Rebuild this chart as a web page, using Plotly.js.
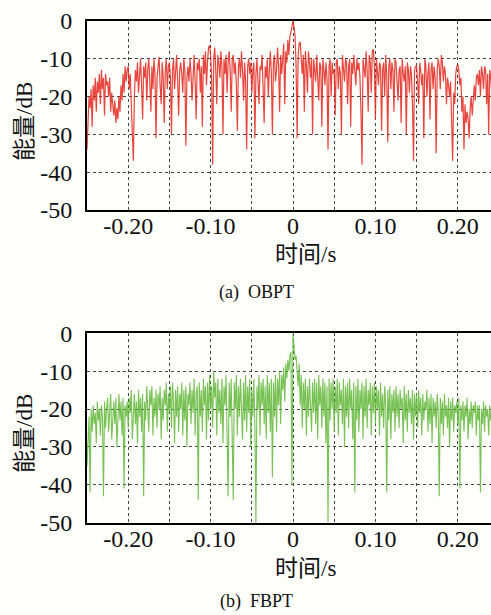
<!DOCTYPE html>
<html>
<head>
<meta charset="utf-8">
<script src="https://cdn.plot.ly/plotly-3.0.1.min.js"></script>
<style>
html,body{margin:0;padding:0;overflow:hidden;background:#fefefa;}
#chart{width:505px;height:615px;}
</style>
</head>
<body>
<div id="chart"></div>
<script>
// Time span of each record (s)
const tStart = -0.25;
const tEnd = 0.25;

// (a) OBPT energy (dB), evenly spaced over the time span
const obptDb = [
  -34, -26, -20, -23, -18, -28, -17, -21, -15, -24, -16, -19, -14, -22, -13, -18, -15, -25, -14, -17,
  -16, -20, -15, -24, -19, -22, -25, -21, -27, -23, -26, -20, -24, -17, -21, -14, -19, -12, -16, -13,
  -12, -18, -14, -22, -28, -37, -20, -13, -16, -11, -19, -14, -10, -17, -26, -12, -15, -11, -21, -13,
  -10, -16, -24, -12, -18, -10, -14, -31, -15, -12, -9.5, -17, -22, -11, -15, -27, -13, -10, -18, -12,
  -11, -15, -30, -13, -10, -18, -12, -9, -16, -25, -13, -11, -14, -19, -10, -13, -33, -15, -12, -16,
  -10, -14, -21, -12, -9, -16, -26, -11, -13, -10, -19, -12, -28, -9, -14, -8, -17, -11, -7, -6.5,
  -9, -15, -38, -10, -7, -13, -22, -9, -11, -15, -8, -12, -30, -10, -14, -9, -19, -11, -8, -13,
  -24, -10, -9, -14, -11, -17, -29, -12, -10, -15, -8, -13, -21, -11, -16, -34, -12, -10, -14, -11,
  -19, -13, -11, -31, -14, -10, -16, -22, -12, -13, -9, -17, -27, -12, -15, -10, -20, -13, -8, -14,
  -30, -11, -9, -16, -13, -7, -12, -24, -9, -14, -10, -6, -22, -8, -11, -5, -9, -4, -3, -1.5,
  0, -1.5, -4, -12, -31, -9, -6, -5.5, -10, -14, -9, -24, -8, -12, -19, -8, -11, -15, -10, -30,
  -10, -13, -16, -9, -14, -21, -11, -12, -28, -10, -13, -17, -11, -15, -34, -12, -10, -20, -11, -14,
  -13, -25, -11, -10, -18, -12, -14, -30, -9, -13, -16, -10, -11, -22, -12, -10, -28, -11, -14, -9,
  -12, -17, -10, -13, -11, -15, -24, -38, -10, -12, -15, -8, -13, -24, -9, -11, -19, -8, -7.5, -12,
  -26, -10, -13, -17, -11, -12, -29, -13, -11, -20, -9, -14, -32, -12, -10, -18, -11, -13, -24, -10,
  -11, -15, -21, -13, -12, -27, -10, -14, -16, -12, -30, -11, -13, -19, -12, -14, -22, -37, -13, -12,
  -12, -16, -22, -11, -13, -17, -14, -31, -10, -12, -20, -14, -11, -26, -13, -11, -18, -12, -15, -35,
  -13, -10, -12, -18, -9, -11, -16, -12, -14, -22, -15, -17, -20, -16, -25, -37, -19, -22, -14, -12,
  -11.5, -13, -17, -15, -24, -20, -34, -22, -27, -24, -26, -31, -23, -20, -25, -19, -17, -21, -15, -14,
  -17, -13, -20, -12, -14, -18, -12, -13, -22, -14, -30, -13, -15, -19, -14, -16, -21, -15, -17, -16,
  -16
];

// (b) FBPT energy (dB), evenly spaced over the time span
const fbptDb = [
  -35, -28, -22, -42, -20, -26, -19, -24, -21, -29, -18, -23, -20, -27, -19, -22, -43, -18, -25, -20,
  -17, -26, -19, -16, -28, -21, -18, -24, -17, -30, -20, -16, -23, -18, -27, -17, -41, -19, -22, -18,
  -25, -17, -21, -15, -28, -19, -16, -24, -18, -29, -15, -22, -17, -26, -16, -43, -18, -23, -14, -20,
  -26, -15, -19, -14, -27, -17, -22, -15, -25, -16, -20, -14, -28, -17, -23, -15, -19, -13, -26, -16,
  -21, -14, -25, -13, -18, -29, -15, -22, -14, -26, -16, -20, -13, -27, -15, -23, -14, -30, -16, -19,
  -13, -24, -15, -21, -12, -27, -16, -14, -44, -13, -22, -15, -26, -12, -19, -14, -28, -13, -23, -11,
  -20, -14, -25, -10, -17, -13, -27, -12, -21, -15, -24, -12, -29, -14, -19, -11, -26, -43, -13, -22,
  -12, -25, -44, -13, -20, -11, -27, -14, -22, -12, -18, -28, -13, -23, -11, -26, -14, -21, -12, -30,
  -15, -22, -12, -25, -50, -14, -20, -11, -27, -13, -19, -12, -24, -14, -28, -11, -21, -13, -26, -12,
  -38, -13, -22, -11, -26, -12, -19, -10, -24, -11, -15, -9, -18, -8, -12, -7, -10, -6, -5, -40,
  0, -5, -7, -6, -9, -14, -8, -19, -11, -25, -13, -20, -12, -27, -14, -22, -12, -18, -26, -13,
  -21, -12, -24, -13, -28, -11, -19, -14, -25, -12, -22, -13, -29, -14, -50, -12, -23, -13, -20, -12,
  -26, -14, -21, -12, -27, -13, -19, -15, -24, -12, -30, -14, -22, -13, -25, -12, -20, -15, -28, -13,
  -42, -14, -23, -12, -26, -15, -20, -13, -28, -14, -22, -12, -25, -15, -19, -13, -27, -14, -21, -13,
  -24, -14, -20, -15, -27, -13, -22, -16, -25, -14, -19, -42, -15, -23, -14, -28, -16, -21, -15, -26,
  -14, -22, -16, -25, -15, -20, -17, -29, -14, -23, -16, -26, -15, -21, -17, -24, -15, -28, -16, -22,
  -16, -25, -15, -21, -17, -27, -16, -23, -18, -20, -15, -26, -17, -24, -16, -29, -17, -22, -18, -25,
  -16, -21, -43, -17, -24, -18, -27, -16, -22, -19, -25, -17, -30, -18, -23, -17, -26, -19, -21, -18,
  -24, -17, -41, -19, -23, -18, -26, -19, -22, -17, -28, -20, -24, -18, -25, -19, -21, -18, -27, -19,
  -23, -19, -42, -20, -24, -18, -26, -19, -22, -20, -27, -19, -23, -21, -25, -19, -22, -20, -26, -21,
  -20
];

// Tick labels
const xTickVals = [-0.2, -0.1, 0, 0.1, 0.2];
const xTickText = ['-0.20', '-0.10', '0', '0.10', '0.20'];
const yTickVals = [0, -10, -20, -30, -40, -50];
const yTickText = ['0', '-10', '-20', '-30', '-40', '-50'];

const xTitle = '时间/s';
const yTitle = '能量/dB';
const captions = ['(a)  OBPT', '(b)  FBPT'];

function timesFor(vals) {
  const n = vals.length - 1;
  return vals.map((_, i) => tStart + (tEnd - tStart) * i / n);
}

const FONT = '"Times New Roman", "Liberation Serif", "Noto Sans CJK SC", serif';
const H = 615;

const traces = [
  {x: timesFor(obptDb), y: obptDb, type: 'scatter', mode: 'lines',
   line: {color: 'rgba(228,36,28,0.85)', width: 1.2}, xaxis: 'x', yaxis: 'y', name: 'OBPT'},
  {x: timesFor(fbptDb), y: fbptDb, type: 'scatter', mode: 'lines',
   line: {color: 'rgba(95,182,55,0.85)', width: 1.1}, xaxis: 'x2', yaxis: 'y2', name: 'FBPT'}
];

function xax(anchor) {
  return {
    anchor: anchor, domain: [0, 1], range: [tStart, tEnd],
    tickvals: xTickVals, ticktext: xTickText, ticks: '',
    showgrid: true, gridcolor: '#444', griddash: 'dot', gridwidth: 1,
    minor: {dtick: 0.05, tick0: 0, showgrid: true, gridcolor: '#444', griddash: 'dot', gridwidth: 1, ticks: ''},
    showline: true, linecolor: '#000', linewidth: 2, mirror: true,
    zeroline: false, tickfont: {family: FONT, size: 24, color: '#111'},
    ticklabelstandoff: -7, fixedrange: true
  };
}
function yax(anchor, dom) {
  return {
    anchor: anchor, domain: dom, range: [-50, 0],
    tickvals: yTickVals, ticktext: yTickText, ticks: '',
    showgrid: true, gridcolor: '#444', griddash: 'dot', gridwidth: 1,
    showline: true, linecolor: '#000', linewidth: 2, mirror: true,
    zeroline: false, tickfont: {family: FONT, size: 24, color: '#111'},
    ticklabelstandoff: 8, fixedrange: true
  };
}

const ann = (text, x, y, size, angle) => ({
  text: text, xref: 'paper', yref: 'paper', x: x, y: y,
  xanchor: 'center', yanchor: 'middle', showarrow: false,
  textangle: angle || 0, font: {family: FONT, size: size, color: '#111'}
});

// paper coordinates from pixel positions (plot spans 87..499 horizontally)
const px = p => (p - 87) / (499 - 87);
const py = p => 1 - p / H;

const layout = {
  width: 505, height: H,
  margin: {l: 87, r: 6, t: 0, b: 0},
  paper_bgcolor: '#fefefa', plot_bgcolor: '#fefefa',
  showlegend: false,
  xaxis: xax('y'),
  yaxis: yax('x', [py(210), py(21)]),
  xaxis2: xax('y2'),
  yaxis2: yax('x2', [py(522.7), py(333.3)]),
  annotations: [
    ann(xTitle, px(305), py(254), 23),
    ann(yTitle, px(24), py(122), 23, -90),
    ann(captions[0], px(256), py(292), 18),
    ann(xTitle, px(305), py(568), 23),
    ann(yTitle, px(24), py(434), 23, -90),
    ann(captions[1], px(256), py(601), 18)
  ]
};

Plotly.newPlot('chart', traces, layout, {staticPlot: true, displayModeBar: false});
</script>
</body>
</html>
